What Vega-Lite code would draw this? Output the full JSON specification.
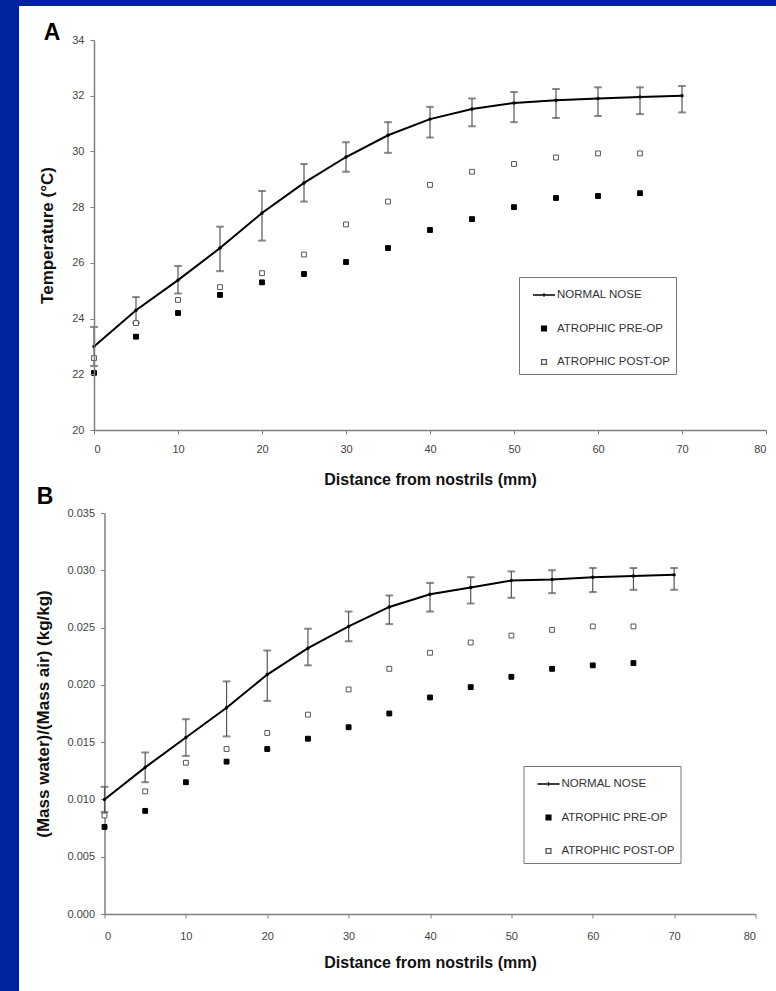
{
  "$schema": "https://vega.github.io/schema/vega-lite/v6.json",
  "background": "#0022a0",
  "padding": {"left": 18, "top": 6, "right": 0, "bottom": 0},
  "bounds": "flush",
  "center": true,
  "spacing": 83,
  "config": {
    "view": {"stroke": null},
    "font": "Liberation Sans",
    "axis": {"grid": false, "domainColor": "#808080", "domainWidth": 1.5, "tickColor": "#808080", "tickSize": 4, "labelColor": "#444444", "labelFontSize": 11, "labelFont": "Liberation Sans", "titleFont": "Liberation Sans", "titleFontWeight": "bold", "titleColor": "#111111"},
    "legend": {"orient": "none", "padding": 6, "symbolOffset": 7, "rowPadding": 15.5, "labelFontSize": 11.5, "labelColor": "#333333", "labelOffset": 1, "strokeColor": "#777777", "symbolSize": 484, "symbolStrokeWidth": 1.3, "zindex": 1, "labelLimit": 300}
  },
  "datasets": {
    "tempNormal": [
      {"d": 0, "v": 23.0, "lo": 22.3, "hi": 23.7},
      {"d": 5, "v": 24.3, "lo": 23.85, "hi": 24.77},
      {"d": 10, "v": 25.38, "lo": 24.9, "hi": 25.89},
      {"d": 15, "v": 26.53, "lo": 25.7, "hi": 27.3},
      {"d": 20, "v": 27.79, "lo": 26.8, "hi": 28.58},
      {"d": 25, "v": 28.87, "lo": 28.2, "hi": 29.55},
      {"d": 30, "v": 29.8, "lo": 29.27, "hi": 30.33},
      {"d": 35, "v": 30.58, "lo": 29.95, "hi": 31.05},
      {"d": 40, "v": 31.16, "lo": 30.5, "hi": 31.6},
      {"d": 45, "v": 31.52, "lo": 30.9, "hi": 31.9},
      {"d": 50, "v": 31.74, "lo": 31.05, "hi": 32.13},
      {"d": 55, "v": 31.84, "lo": 31.2, "hi": 32.24},
      {"d": 60, "v": 31.9, "lo": 31.27, "hi": 32.3},
      {"d": 65, "v": 31.95, "lo": 31.34, "hi": 32.3},
      {"d": 70, "v": 32.0, "lo": 31.4, "hi": 32.35}
    ],
    "tempAtrophic": [
      {"series": "ATROPHIC PRE-OP", "d": 0, "v": 22.05},
      {"series": "ATROPHIC PRE-OP", "d": 5, "v": 23.35},
      {"series": "ATROPHIC PRE-OP", "d": 10, "v": 24.2},
      {"series": "ATROPHIC PRE-OP", "d": 15, "v": 24.85},
      {"series": "ATROPHIC PRE-OP", "d": 20, "v": 25.3},
      {"series": "ATROPHIC PRE-OP", "d": 25, "v": 25.6},
      {"series": "ATROPHIC PRE-OP", "d": 30, "v": 26.03},
      {"series": "ATROPHIC PRE-OP", "d": 35, "v": 26.53},
      {"series": "ATROPHIC PRE-OP", "d": 40, "v": 27.18},
      {"series": "ATROPHIC PRE-OP", "d": 45, "v": 27.57},
      {"series": "ATROPHIC PRE-OP", "d": 50, "v": 28.0},
      {"series": "ATROPHIC PRE-OP", "d": 55, "v": 28.33},
      {"series": "ATROPHIC PRE-OP", "d": 60, "v": 28.4},
      {"series": "ATROPHIC PRE-OP", "d": 65, "v": 28.5},
      {"series": "ATROPHIC POST-OP", "d": 0, "v": 22.58},
      {"series": "ATROPHIC POST-OP", "d": 5, "v": 23.84},
      {"series": "ATROPHIC POST-OP", "d": 10, "v": 24.67},
      {"series": "ATROPHIC POST-OP", "d": 15, "v": 25.13},
      {"series": "ATROPHIC POST-OP", "d": 20, "v": 25.63},
      {"series": "ATROPHIC POST-OP", "d": 25, "v": 26.3},
      {"series": "ATROPHIC POST-OP", "d": 30, "v": 27.38},
      {"series": "ATROPHIC POST-OP", "d": 35, "v": 28.2},
      {"series": "ATROPHIC POST-OP", "d": 40, "v": 28.8},
      {"series": "ATROPHIC POST-OP", "d": 45, "v": 29.27},
      {"series": "ATROPHIC POST-OP", "d": 50, "v": 29.55},
      {"series": "ATROPHIC POST-OP", "d": 55, "v": 29.78},
      {"series": "ATROPHIC POST-OP", "d": 60, "v": 29.93},
      {"series": "ATROPHIC POST-OP", "d": 65, "v": 29.93}
    ],
    "humNormal": [
      {"d": 0, "v": 0.0100, "lo": 0.0089, "hi": 0.0111},
      {"d": 5, "v": 0.0128, "lo": 0.0115, "hi": 0.0141},
      {"d": 10, "v": 0.0154, "lo": 0.0138, "hi": 0.0170},
      {"d": 15, "v": 0.0180, "lo": 0.0155, "hi": 0.0203},
      {"d": 20, "v": 0.0209, "lo": 0.0186, "hi": 0.0230},
      {"d": 25, "v": 0.0232, "lo": 0.0217, "hi": 0.0249},
      {"d": 30, "v": 0.0251, "lo": 0.0238, "hi": 0.0264},
      {"d": 35, "v": 0.0268, "lo": 0.0253, "hi": 0.0278},
      {"d": 40, "v": 0.0279, "lo": 0.0264, "hi": 0.0289},
      {"d": 45, "v": 0.0285, "lo": 0.0271, "hi": 0.0294},
      {"d": 50, "v": 0.0291, "lo": 0.0276, "hi": 0.0299},
      {"d": 55, "v": 0.0292, "lo": 0.0280, "hi": 0.0300},
      {"d": 60, "v": 0.0294, "lo": 0.0281, "hi": 0.0302},
      {"d": 65, "v": 0.0295, "lo": 0.0283, "hi": 0.0302},
      {"d": 70, "v": 0.0296, "lo": 0.0283, "hi": 0.0302}
    ],
    "humAtrophic": [
      {"series": "ATROPHIC PRE-OP", "d": 0, "v": 0.0076},
      {"series": "ATROPHIC PRE-OP", "d": 5, "v": 0.0090},
      {"series": "ATROPHIC PRE-OP", "d": 10, "v": 0.0115},
      {"series": "ATROPHIC PRE-OP", "d": 15, "v": 0.0133},
      {"series": "ATROPHIC PRE-OP", "d": 20, "v": 0.0144},
      {"series": "ATROPHIC PRE-OP", "d": 25, "v": 0.0153},
      {"series": "ATROPHIC PRE-OP", "d": 30, "v": 0.0163},
      {"series": "ATROPHIC PRE-OP", "d": 35, "v": 0.0175},
      {"series": "ATROPHIC PRE-OP", "d": 40, "v": 0.0189},
      {"series": "ATROPHIC PRE-OP", "d": 45, "v": 0.0198},
      {"series": "ATROPHIC PRE-OP", "d": 50, "v": 0.0207},
      {"series": "ATROPHIC PRE-OP", "d": 55, "v": 0.0214},
      {"series": "ATROPHIC PRE-OP", "d": 60, "v": 0.0217},
      {"series": "ATROPHIC PRE-OP", "d": 65, "v": 0.0219},
      {"series": "ATROPHIC POST-OP", "d": 0, "v": 0.0086},
      {"series": "ATROPHIC POST-OP", "d": 5, "v": 0.0107},
      {"series": "ATROPHIC POST-OP", "d": 10, "v": 0.0132},
      {"series": "ATROPHIC POST-OP", "d": 15, "v": 0.0144},
      {"series": "ATROPHIC POST-OP", "d": 20, "v": 0.0158},
      {"series": "ATROPHIC POST-OP", "d": 25, "v": 0.0174},
      {"series": "ATROPHIC POST-OP", "d": 30, "v": 0.0196},
      {"series": "ATROPHIC POST-OP", "d": 35, "v": 0.0214},
      {"series": "ATROPHIC POST-OP", "d": 40, "v": 0.0228},
      {"series": "ATROPHIC POST-OP", "d": 45, "v": 0.0237},
      {"series": "ATROPHIC POST-OP", "d": 50, "v": 0.0243},
      {"series": "ATROPHIC POST-OP", "d": 55, "v": 0.0248},
      {"series": "ATROPHIC POST-OP", "d": 60, "v": 0.0251},
      {"series": "ATROPHIC POST-OP", "d": 65, "v": 0.0251}
    ]
  },
  "resolve": {
    "scale": {"shape": "independent", "fill": "independent", "stroke": "independent"},
    "legend": {"shape": "independent", "fill": "independent", "stroke": "independent"}
  },
  "vconcat": [
    {
      "width": 672,
      "height": 390,
      "layer": [
        {
          "data": {"values": [{}]},
          "mark": {"type": "rect", "fill": "white", "clip": false},
          "encoding": {
            "x": {"datum": -8.93, "type": "quantitative", "scale": {"domain": [0, 80], "nice": false, "zero": false}, "title": "Distance from nostrils (mm)",
              "axis": {"zindex": 2, "values": [0, 10, 20, 30, 40, 50, 60, 70, 80], "labelPadding": 9, "labelColor": "#444444", "titleFontSize": 16, "titlePadding": 17}},
            "x2": {"datum": 81.3},
            "y": {"datum": 35.22, "type": "quantitative", "scale": {"domain": [20, 34], "nice": false, "zero": false}, "title": "Temperature (°C)",
              "axis": {"zindex": 2, "values": [20, 22, 24, 26, 28, 30, 32, 34], "labelPadding": 6, "labelColor": "#444444", "titleFontSize": 17, "titlePadding": 15}},
            "y2": {"datum": -0.14}
          }
        },
        {
          "data": {"name": "tempNormal"},
          "mark": {"type": "errorbar", "ticks": {"stroke": "#555555", "size": 7}, "rule": {"stroke": "#555555", "strokeWidth": 1.2}},
          "encoding": {
            "x": {"field": "d", "type": "quantitative", "title": "Distance from nostrils (mm)"},
            "y": {"field": "lo", "type": "quantitative", "title": "Temperature (°C)"},
            "y2": {"field": "hi"}
          }
        },
        {
          "data": {"name": "tempNormal"},
          "mark": {"type": "line", "color": "black", "strokeWidth": 2},
          "encoding": {
            "x": {"field": "d", "type": "quantitative", "title": "Distance from nostrils (mm)"},
            "y": {"field": "v", "type": "quantitative", "title": "Temperature (°C)"}
          }
        },
        {
          "data": {"name": "tempNormal"},
          "mark": {"type": "circle", "color": "black", "size": 12, "opacity": 1},
          "encoding": {
            "x": {"field": "d", "type": "quantitative", "title": "Distance from nostrils (mm)"},
            "y": {"field": "v", "type": "quantitative", "title": "Temperature (°C)"}
          }
        },
        {
          "data": {"name": "tempAtrophic"},
          "mark": {"type": "point", "filled": true, "size": 484, "strokeWidth": 1, "opacity": 1},
          "encoding": {
            "x": {"field": "d", "type": "quantitative", "title": "Distance from nostrils (mm)"},
            "y": {"field": "v", "type": "quantitative", "title": "Temperature (°C)"},
            "shape": {"field": "series", "type": "nominal", "title": null,
              "scale": {"domain": ["NORMAL NOSE", "ATROPHIC PRE-OP", "ATROPHIC POST-OP"], "range": ["M-1,0H1M0,-0.15V0.15", "M-0.22,-0.22H0.22V0.22H-0.22Z", "M-0.22,-0.22H0.22V0.22H-0.22Z"]},
              "legend": {"orient": "none", "legendX": 425, "legendY": 237}},
            "fill": {"field": "series", "type": "nominal", "title": null,
              "scale": {"domain": ["NORMAL NOSE", "ATROPHIC PRE-OP", "ATROPHIC POST-OP"], "range": ["black", "black", "white"]},
              "legend": {"orient": "none", "legendX": 425, "legendY": 237}},
            "stroke": {"field": "series", "type": "nominal", "title": null,
              "scale": {"domain": ["NORMAL NOSE", "ATROPHIC PRE-OP", "ATROPHIC POST-OP"], "range": ["black", "black", "#555555"]},
              "legend": {"orient": "none", "legendX": 425, "legendY": 237}}
          }
        },
        {
          "data": {"values": [{}]},
          "mark": {"type": "text", "text": "A", "fontSize": 23, "fontWeight": "bold", "color": "black", "align": "center", "baseline": "middle"},
          "encoding": {
            "x": {"datum": -5.0, "type": "quantitative"},
            "y": {"datum": 34.25, "type": "quantitative"}
          }
        }
      ]
    },
    {
      "width": 651,
      "height": 401,
      "layer": [
        {
          "data": {"name": "humNormal"},
          "mark": {"type": "errorbar", "ticks": {"stroke": "#555555", "size": 7}, "rule": {"stroke": "#555555", "strokeWidth": 1.2}},
          "encoding": {
            "x": {"field": "d", "type": "quantitative", "scale": {"domain": [0, 80], "nice": false, "zero": false}, "title": "Distance from nostrils (mm)",
              "axis": {"values": [0, 10, 20, 30, 40, 50, 60, 70, 80], "labelPadding": 12, "labelColor": "#444444", "titleFontSize": 16, "titlePadding": 13}},
            "y": {"field": "lo", "type": "quantitative", "scale": {"domain": [0, 0.035], "nice": false}, "title": "(Mass water)/(Mass air) (kg/kg)",
              "axis": {"values": [0, 0.005, 0.01, 0.015, 0.02, 0.025, 0.03, 0.035], "format": ".3f", "labelPadding": 6, "labelColor": "#444444", "titleFontSize": 17, "titlePadding": 14}},
            "y2": {"field": "hi"}
          }
        },
        {
          "data": {"name": "humNormal"},
          "mark": {"type": "line", "color": "black", "strokeWidth": 2},
          "encoding": {
            "x": {"field": "d", "type": "quantitative", "title": "Distance from nostrils (mm)"},
            "y": {"field": "v", "type": "quantitative", "title": "(Mass water)/(Mass air) (kg/kg)"}
          }
        },
        {
          "data": {"name": "humNormal"},
          "mark": {"type": "circle", "color": "black", "size": 12, "opacity": 1},
          "encoding": {
            "x": {"field": "d", "type": "quantitative", "title": "Distance from nostrils (mm)"},
            "y": {"field": "v", "type": "quantitative", "title": "(Mass water)/(Mass air) (kg/kg)"}
          }
        },
        {
          "data": {"name": "humAtrophic"},
          "mark": {"type": "point", "filled": true, "size": 484, "strokeWidth": 1, "opacity": 1},
          "encoding": {
            "x": {"field": "d", "type": "quantitative", "title": "Distance from nostrils (mm)"},
            "y": {"field": "v", "type": "quantitative", "title": "(Mass water)/(Mass air) (kg/kg)"},
            "shape": {"field": "series", "type": "nominal", "title": null,
              "scale": {"domain": ["NORMAL NOSE", "ATROPHIC PRE-OP", "ATROPHIC POST-OP"], "range": ["M-1,0H1M0,-0.15V0.15", "M-0.22,-0.22H0.22V0.22H-0.22Z", "M-0.22,-0.22H0.22V0.22H-0.22Z"]},
              "legend": {"orient": "none", "legendX": 419, "legendY": 253}},
            "fill": {"field": "series", "type": "nominal", "title": null,
              "scale": {"domain": ["NORMAL NOSE", "ATROPHIC PRE-OP", "ATROPHIC POST-OP"], "range": ["black", "black", "white"]},
              "legend": {"orient": "none", "legendX": 419, "legendY": 253}},
            "stroke": {"field": "series", "type": "nominal", "title": null,
              "scale": {"domain": ["NORMAL NOSE", "ATROPHIC PRE-OP", "ATROPHIC POST-OP"], "range": ["black", "black", "#555555"]},
              "legend": {"orient": "none", "legendX": 419, "legendY": 253}}
          }
        },
        {
          "data": {"values": [{}]},
          "mark": {"type": "text", "text": "B", "fontSize": 23, "fontWeight": "bold", "color": "black", "align": "center", "baseline": "middle"},
          "encoding": {
            "x": {"datum": -7.3, "type": "quantitative"},
            "y": {"datum": 0.0364, "type": "quantitative"}
          }
        }
      ]
    }
  ]
}
